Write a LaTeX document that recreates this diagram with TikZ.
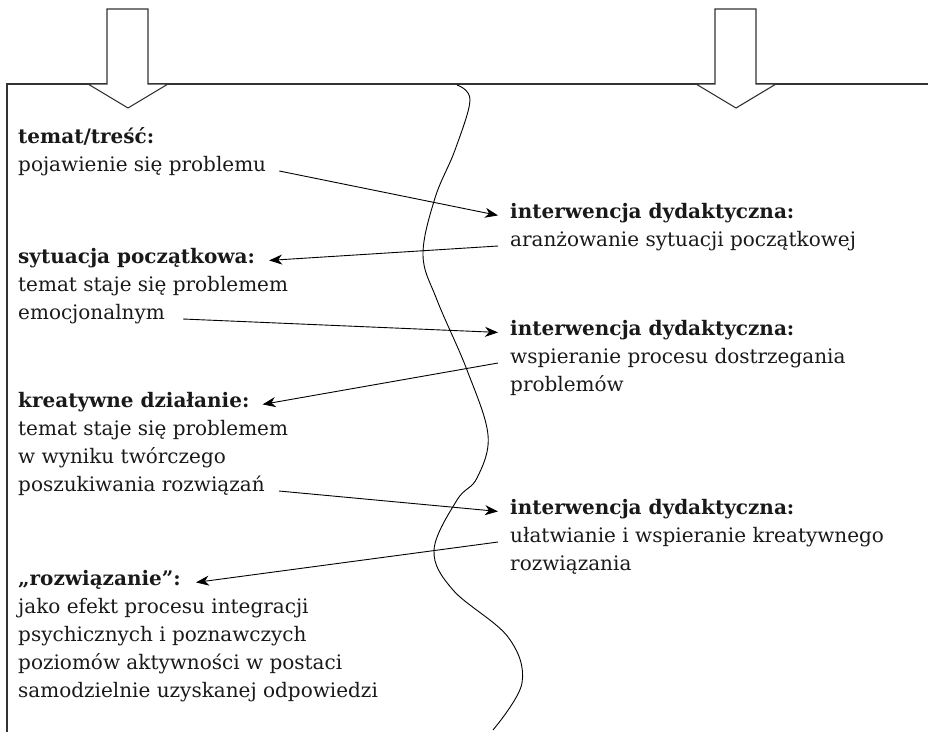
\documentclass[tikz,border=0pt]{standalone}
\usepackage{fontspec}
\setmainfont{DejaVu Serif}
\usetikzlibrary{arrows.meta}

\begin{document}
\begin{tikzpicture}[x=1pt,y=-1pt,
  txt/.style={anchor=base west,inner sep=0pt,text=black!90,
    font=\fontsize{20}{28}\selectfont},
  head/.style={txt,font=\fontsize{20}{28}\selectfont\bfseries},
  link/.style={line width=0.9pt,
    -{Stealth[length=13pt,width=10pt,inset=4pt]}},
  frame/.style={line width=1.1pt,black!80}]

\useasboundingbox (0,0) rectangle (928,732);

% frame and the wavy border
\draw[frame] (7,732) -- (7,84) -- (928,84);
\draw[line width=0.9pt] plot[smooth,tension=0.6] coordinates {
  (457,85) (470,100) (455,150) (435,198) (423,255) (437,300)
  (467,370) (488,435) (477,478) (457,500) (434,550) (453,590)
  (508,637) (522,683) (493,730)};

% the two big arrows
\foreach \x in {128,736}
  \draw[frame,fill=white] (\x-21,9) -- (\x+20,9) -- (\x+20,84) -- (\x+40,84)
    -- (\x,108) -- (\x-40,84) -- (\x-21,84) -- cycle;

% left column
\node[head] (tem)  at (18,143) {temat/treść:};
\node[txt]  (poj)  at (18,171) {pojawienie się problemu};
\node[head] (syt)  at (18,263) {sytuacja początkowa:};
\node[txt]  (syt1) at (18,291) {temat staje się problemem};
\node[txt]  (emo)  at (18,319) {emocjonalnym};
\node[head] (kre)  at (18,407) {kreatywne działanie:};
\node[txt]  (kre1) at (18,435) {temat staje się problemem};
\node[txt]  (kre2) at (18,463) {w wyniku twórczego};
\node[txt]  (pos)  at (18,491) {poszukiwania rozwiązań};
\node[head] (roz)  at (18,585) {„rozwiązanie”:};
\node[txt]  (roz1) at (18,613) {jako efekt procesu integracji};
\node[txt]  (roz2) at (18,641) {psychicznych i poznawczych};
\node[txt]  (roz3) at (18,669) {poziomów aktywności w postaci};
\node[txt]  (roz4) at (18,697) {samodzielnie uzyskanej odpowiedzi};

% right column
\node[head] (int1) at (510,218) {interwencja dydaktyczna:};
\node[txt]  (ara)  at (510,246) {aranżowanie sytuacji początkowej};
\node[head] (int2) at (510,335) {interwencja dydaktyczna:};
\node[txt]  (wsp)  at (510,363) {wspieranie procesu dostrzegania};
\node[txt]  (wsp1) at (510,391) {problemów};
\node[head] (int3) at (510,514) {interwencja dydaktyczna:};
\node[txt]  (ula)  at (510,542) {ułatwianie i wspieranie kreatywnego};
\node[txt]  (ula1) at (510,570) {rozwiązania};

% connectors
\draw[link] ([xshift=13pt]poj.base east) -- ([xshift=-12pt]int1.mid west);
\draw[link] ([xshift=-12pt]ara.base west) -- ([xshift=14pt]syt.mid east);
\draw[link] ([xshift=18pt]emo.base east) -- ([xshift=-12pt]int2.mid west);
\draw[link] ([xshift=-12pt]wsp.base west) -- ([xshift=13pt]kre.mid east);
\draw[link] ([xshift=14pt]pos.base east) -- ([xshift=-12pt]int3.mid west);
\draw[link] ([xshift=-12pt]ula.base west) -- ([xshift=15pt]roz.mid east);
\end{tikzpicture}
\end{document}
